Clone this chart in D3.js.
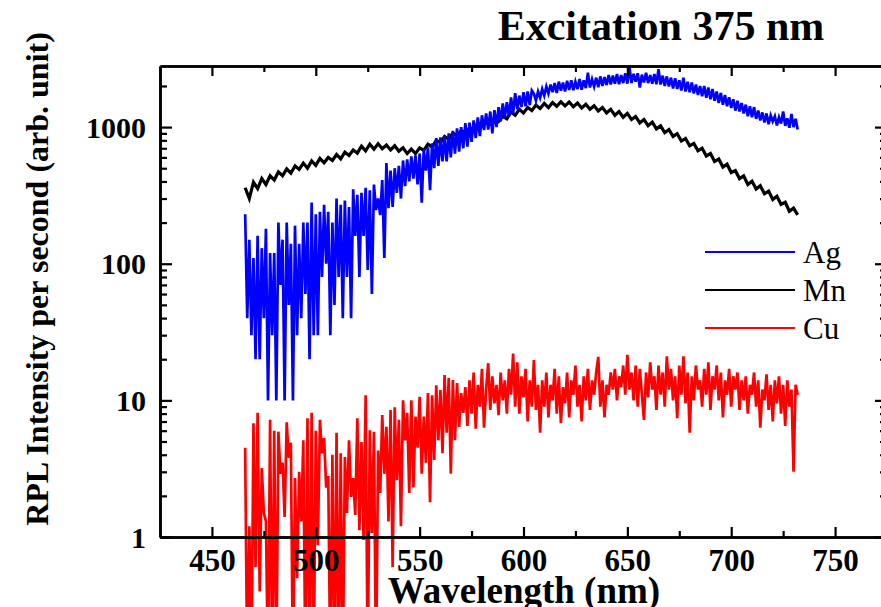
<!DOCTYPE html>
<html>
<head>
<meta charset="utf-8">
<script src="https://cdn.jsdelivr.net/npm/d3@7"></script>
<style>
  html, body { margin: 0; padding: 0; background: #fff; }
  svg { display: block; }
</style>
</head>
<body>
<div id="chart"></div>
<script>
// spectra, counts per second
// Ag and Cu sampled every 1 nm, Mn every 2 nm, starting at 466 nm
var agStart = 466, cuStart = 466, mnStart = 466;

var agValues = [
  230, 40, 150, 30, 110, 20, 160, 20, 130, 40,
  180, 10, 120, 30, 120, 10, 200, 70, 150, 10,
  200, 50, 140, 10, 190, 30, 140, 40, 200, 60,
  200, 20, 280, 30, 230, 30, 240, 80, 270, 100,
  240, 30, 200, 50, 300, 80, 270, 40, 290, 80,
  260, 40, 350, 160, 320, 80, 330, 160, 360, 90,
  345, 60, 380, 247, 300, 227, 410, 110, 545, 255,
  480, 260, 500, 330, 520, 300, 570, 370, 580, 400,
  610, 420, 620, 380, 640, 280, 690, 480, 710, 345,
  760, 500, 830, 520, 840, 560, 860, 560, 900, 600,
  940, 640, 980, 660, 1000, 700, 1070, 720, 1080, 780,
  1120, 830, 1180, 860, 1220, 950, 1260, 960, 1300, 900,
  1330, 1000, 1400, 1100, 1490, 1180, 1520, 1200, 1650, 1260,
  1770, 1350, 1700, 1400, 1800, 1420, 1820, 1450, 1850, 1750,
  1560, 1820, 1640, 1900, 1700, 1980, 1760, 2050, 1800, 2100,
  1780, 2150, 1850, 2120, 1820, 2180, 1870, 2200, 1860, 2150,
  1900, 2250, 1880, 2200, 1930, 2500, 1950, 2240, 1980, 2300,
  1960, 2350, 2000, 2320, 2030, 2400, 2050, 2380, 2080, 2450,
  2060, 2400, 2100, 2480, 2080, 2750, 2100, 2450, 2150, 2480,
  1950, 2420, 2120, 2500, 2100, 2400, 2080, 2450, 2060, 2650,
  2050, 2380, 2000, 2350, 1980, 2300, 1920, 2280, 1900, 2200,
  1850, 2300, 1820, 2150, 1800, 2120, 1760, 2050, 1720, 2000,
  1680, 2000, 1640, 1950, 1600, 1900, 1560, 1820, 1500, 1780,
  1460, 1720, 1420, 1650, 1380, 1600, 1320, 1560, 1300, 1500,
  1260, 1460, 1200, 1420, 1180, 1400, 1150, 1320, 1120, 1280,
  1080, 1260, 1050, 1220, 1100, 1200, 1030, 1180, 1060, 1300,
  1020, 1160, 990, 1250, 1000, 1150, 960
];

var mnValues = [
  360, 300, 395, 355, 420, 380, 440, 410, 470, 440,
  495, 460, 520, 490, 545, 500, 565, 525, 590, 548,
  600, 570, 630, 585, 655, 620, 680, 645, 725, 670,
  750, 690, 755, 695, 740, 680, 730, 665, 705, 640,
  690, 640, 705, 675, 750, 715, 800, 770, 855, 815,
  905, 860, 945, 900, 985, 955, 1070, 1020, 1120, 1060,
  1160, 1100, 1200, 1150, 1290, 1220, 1350, 1270, 1390, 1320,
  1450, 1370, 1490, 1390, 1510, 1420, 1530, 1430, 1525, 1410,
  1500, 1380, 1470, 1350, 1430, 1310, 1390, 1270, 1350, 1220,
  1300, 1180, 1260, 1135, 1195, 1075, 1135, 1025, 1085, 970,
  1020, 910, 960, 855, 895, 790, 825, 730, 760, 670,
  700, 615, 640, 560, 585, 510, 535, 465, 480, 420,
  440, 380, 402, 352, 372, 325, 340, 295, 312, 272,
  282, 242, 255, 228
];

// 0.1 = no counts, falls off the bottom of the log axis
var cuValues = [
  4.5, 0.1, 1.2, 0.1, 6.8, 0.6, 8.1, 0.4, 3.2, 1.5,
  1.3, 0.1, 7.2, 0.1, 6.0, 0.1, 5.9, 2.9, 3.5, 1.4,
  6.9, 3.8, 4.9, 0.1, 2.7, 0.5, 3.0, 1.3, 5.1, 0.1,
  7.4, 0.1, 8.1, 0.1, 6.0, 0.87, 7.2, 4.1, 5.3, 2.3,
  2.8, 0.1, 4.0, 0.1, 5.8, 0.1, 4.1, 0.1, 3.85, 1.5,
  5.1, 1.96, 2.7, 1.45, 7.4, 1.12, 4.95, 0.95, 10.9, 0.1,
  6.05, 1.07, 5.9, 0.1, 4.3, 2.1, 7.8, 2.9, 6.4, 1.3,
  8.5, 0.6, 8.9, 2.6, 7.2, 1.2, 10, 5.1, 8.1, 2.1,
  10, 2.3, 7.6, 4.5, 10.6, 2.9, 7.6, 3.5, 11.3, 1.8,
  10.9, 3.66, 12.9, 5.1, 11.9, 4.1, 15.3, 5.8, 14.6, 2.9,
  14.1, 5.1, 13.4, 6.4, 11.3, 8.1, 12.5, 6.5, 14, 8,
  16, 6.2, 13, 9, 17, 6.3, 12, 18.7, 8.5, 15,
  9.5, 13, 7.8, 16, 10, 14, 8, 17, 11, 22,
  9, 19, 8, 15, 10.5, 17, 7, 14, 9, 19.7,
  8.5, 13, 5.8, 14, 9, 16, 7.5, 13, 10, 17,
  8, 15, 6.8, 12.5, 9.5, 16, 7.5, 14, 11, 18,
  9, 13, 7, 15, 10, 17, 8.5, 14, 11, 16,
  20.8, 9, 14, 7.5, 13, 11, 16, 12, 17, 10,
  15, 12.5, 18, 11, 21.5, 12, 16, 10, 18, 9,
  17, 11, 7.2, 16, 10.5, 19, 12, 15, 8.5, 18,
  11, 16, 9, 21, 12, 17, 10, 15, 7.4, 18,
  11, 21, 9.5, 16, 5.8, 15, 10, 18, 12, 14,
  9, 17, 11, 19, 8.5, 15, 12, 18, 10, 16,
  7.5, 14, 11, 17, 9, 15, 12, 16, 8.5, 14,
  10, 15, 8, 13, 11, 16, 9, 14, 6.3, 12,
  10, 15.5, 8.5, 13, 7, 14, 9.5, 15, 8, 13,
  6.5, 14, 9, 12, 3.0, 13, 11
];

var seriesNames = ["Ag", "Mn", "Cu"];
var seriesColors = ["#0000ff", "#000000", "#ff0000"];

var xMajor = [450, 500, 550, 600, 650, 700, 750];
var xMinor = [475, 525, 575, 625, 675, 725];
var yMajor = [1, 10, 100, 1000];
var yMinor = [2, 3, 4, 5, 6, 7, 8, 9, 20, 30, 40, 50, 60, 70, 80, 90,
              200, 300, 400, 500, 600, 700, 800, 900, 2000];

var titleText = "Excitation 375 nm";
var xTitle = "Wavelength (nm)";
var yTitle = "RPL Intensity per second (arb. unit)";

var width = 881, height = 607;
var plotLeft = 160, plotRight = 887, plotTop = 66, plotBottom = 537;
var serif = "'Liberation Serif', 'Times New Roman', serif";

function toPoints(start, step, values) {
  return values.map(function(v, i) { return {wl: start + i * step, v: v}; });
}

var series = [
  {name: "Mn", color: "#000000", width: 3.2, pts: toPoints(mnStart, 2, mnValues)},
  {name: "Ag", color: "#0000ff", width: 2.7, pts: toPoints(agStart, 1, agValues)},
  {name: "Cu", color: "#ff0000", width: 2.7, pts: toPoints(cuStart, 1, cuValues)}
];

var x = d3.scaleLinear().domain([425, 775]).range([plotLeft, plotRight]);
var y = d3.scaleLog().domain([1, 2800]).range([plotBottom, plotTop]);

var svg = d3.select("#chart").append("svg")
  .attr("width", width)
  .attr("height", height)
  .style("font-family", serif);

// curves, not clipped: zero counts run off the bottom like in the original
var line = d3.line()
  .x(function(d) { return x(d.wl); })
  .y(function(d) { return y(d.v); });

svg.append("g").selectAll("path")
  .data(series)
  .enter().append("path")
  .attr("d", function(d) { return line(d.pts); })
  .attr("fill", "none")
  .attr("stroke", function(d) { return d.color; })
  .attr("stroke-width", function(d) { return d.width; })
  .attr("stroke-linejoin", "miter");

// axes, ticks pointing inwards
function styleAxis(g) {
  g.selectAll("path").attr("stroke", "#000").attr("stroke-width", 2.6);
  g.selectAll("line").attr("stroke", "#000").attr("stroke-width", 2.2);
  g.selectAll("text").attr("fill", "#000").style("font-family", serif)
    .style("font-weight", "bold");
}

var gx = svg.append("g").attr("transform", "translate(0," + plotBottom + ")")
  .call(d3.axisBottom(x).tickValues(xMajor).tickSizeInner(-10).tickSizeOuter(0)
    .tickPadding(12).tickFormat(d3.format("d")));
gx.call(styleAxis);
gx.selectAll("text").style("font-size", "31px");

svg.append("g").attr("transform", "translate(0," + plotBottom + ")")
  .call(d3.axisBottom(x).tickValues(xMinor).tickSizeInner(-6).tickSizeOuter(0).tickFormat(""))
  .call(styleAxis);

svg.append("g").attr("transform", "translate(0," + plotTop + ")")
  .call(d3.axisTop(x).tickValues(xMajor).tickSizeInner(-10).tickSizeOuter(0).tickFormat(""))
  .call(styleAxis);
svg.append("g").attr("transform", "translate(0," + plotTop + ")")
  .call(d3.axisTop(x).tickValues(xMinor).tickSizeInner(-6).tickSizeOuter(0).tickFormat(""))
  .call(styleAxis);

var gy = svg.append("g").attr("transform", "translate(" + plotLeft + ",0)")
  .call(d3.axisLeft(y).tickValues(yMajor).tickSizeInner(-12).tickSizeOuter(0)
    .tickPadding(14).tickFormat(d3.format("d")));
gy.call(styleAxis);
gy.selectAll("text").style("font-size", "30px").attr("dy", "0.34em");

svg.append("g").attr("transform", "translate(" + plotLeft + ",0)")
  .call(d3.axisLeft(y).tickValues(yMinor).tickSizeInner(-7).tickSizeOuter(0).tickFormat(""))
  .call(styleAxis);

svg.append("g").attr("transform", "translate(" + plotRight + ",0)")
  .call(d3.axisRight(y).tickValues(yMajor).tickSizeInner(-12).tickSizeOuter(0).tickFormat(""))
  .call(styleAxis);
svg.append("g").attr("transform", "translate(" + plotRight + ",0)")
  .call(d3.axisRight(y).tickValues(yMinor).tickSizeInner(-7).tickSizeOuter(0).tickFormat(""))
  .call(styleAxis);

// titles
svg.append("text")
  .attr("x", 661).attr("y", 40)
  .attr("text-anchor", "middle")
  .style("font-size", "42px").style("font-weight", "bold")
  .text(titleText);

svg.append("text")
  .attr("x", 524).attr("y", 603)
  .attr("text-anchor", "middle")
  .style("font-size", "37px").style("font-weight", "bold")
  .text(xTitle);

svg.append("text")
  .attr("transform", "translate(48,279) rotate(-90)")
  .attr("text-anchor", "middle")
  .style("font-size", "32px").style("font-weight", "bold")
  .text(yTitle);

// legend
var legend = svg.append("g").selectAll("g")
  .data(seriesNames)
  .enter().append("g")
  .attr("transform", function(d, i) { return "translate(705," + (252 + i * 38) + ")"; });

legend.append("line")
  .attr("x1", 0).attr("x2", 90)
  .attr("stroke", function(d, i) { return seriesColors[i]; })
  .attr("stroke-width", 2);

legend.append("text")
  .attr("x", 98).attr("y", 11)
  .style("font-size", "31px")
  .text(function(d) { return d; });
</script>
</body>
</html>
